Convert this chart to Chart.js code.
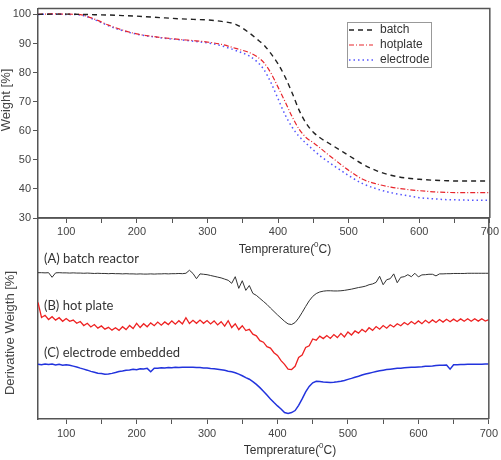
<!DOCTYPE html>
<html>
<head>
<meta charset="utf-8">
<script src="https://cdn.jsdelivr.net/npm/chart.js@4.4.0/dist/chart.umd.min.js"></script>
<style>
  body { margin: 0; background: #fff; }
  #wrap { position: relative; width: 501px; height: 460px; }
  #wrap canvas { position: absolute; left: 0; top: 0; }
</style>
</head>
<body>
<div id="wrap">
  <canvas id="tga" width="501" height="460"></canvas>
  <canvas id="dtg" width="501" height="460"></canvas>
</div>
<script>
// ---- top panel: weight loss (TGA) ----
const tgaTemps = [60, 80, 100, 120, 140, 160, 180, 200, 220, 240, 260, 280, 300, 320, 340, 360, 370, 380, 390, 400,
  410, 420, 430, 440, 450, 460, 470, 480, 490, 500, 520, 540, 560, 580, 600, 620, 640, 660, 680, 700];
const batchWeight = [100, 100.1, 100.1, 100, 99.9, 99.8, 99.6, 99.4, 99.1, 98.8, 98.5, 98.3, 98.1, 97.6, 96.6, 93.5, 91.5, 89.5, 86.5, 83,
  78.5, 73, 67, 62.5, 59.5, 57.5, 56, 54.5, 53, 51.5, 48.5, 46.2, 44.7, 43.8, 43.3, 43, 42.8, 42.7, 42.7, 42.7];
const hotplateWeight = [100, 100.2, 100.1, 99.9, 98.4, 96.3, 94.6, 93.3, 92.5, 91.9, 91.4, 91, 90.5, 89.7, 88.3, 86.8, 85.5, 83.4, 79.8, 75,
  70, 64.8, 60.5, 57.6, 55.9, 54, 52, 50.1, 48.2, 46.4, 43.3, 41.7, 40.6, 39.9, 39.4, 39, 38.8, 38.7, 38.7, 38.7];
const electrodeWeight = [100, 100.1, 100, 99.8, 98.2, 96.1, 94.4, 93.2, 92.4, 91.8, 91.3, 90.8, 90.2, 89.2, 87.6, 85.6, 83.8, 81, 76.5, 71,
  65.5, 61.2, 58, 55.6, 53.4, 51.3, 49.5, 47.8, 46.2, 44.6, 41.8, 40, 38.7, 37.8, 37, 36.6, 36.3, 36.2, 36.1, 36.1];
const seriesNames = ['batch', 'hotplate', 'electrode'];

// ---- bottom panel: derivative weight (DTG), one reading every 5 degC, arbitrary units ----
const dtgTemps = [
  60, 65, 70, 75, 80, 85, 90, 95, 100, 105, 110, 115, 120, 125, 130, 135, 140, 145, 150, 155,
  160, 165, 170, 175, 180, 185, 190, 195, 200, 205, 210, 215, 220, 225, 230, 235, 240, 245, 250, 255,
  260, 265, 270, 275, 280, 285, 290, 295, 300, 305, 310, 315, 320, 325, 330, 335, 340, 345, 350, 355,
  360, 365, 370, 375, 380, 385, 390, 395, 400, 405, 410, 415, 420, 425, 430, 435, 440, 445, 450, 455,
  460, 465, 470, 475, 480, 485, 490, 495, 500, 505, 510, 515, 520, 525, 530, 535, 540, 545, 550, 555,
  560, 565, 570, 575, 580, 585, 590, 595, 600, 605, 610, 615, 620, 625, 630, 635, 640, 645, 650, 655,
  660, 665, 670, 675, 680, 685, 690, 695, 700];
const batchDeriv = [
  72.8, 72.8, 72.7, 72.8, 70.5, 72.7, 72.8, 72.7, 72.7, 72.6,
  72.7, 72.6, 72.6, 72.5, 72.6, 72.5, 72.4, 72.5, 72.4, 72.4,
  72.3, 72.4, 72.3, 72.3, 72.2, 72.3, 72.2, 72.2, 72.1, 72.2,
  72.1, 72.1, 72.2, 72.1, 72.2, 72.2, 72.3, 72.2, 72.3, 72.3,
  72.4, 72.3, 72.5, 74.0, 72.4, 69.8, 72.2, 72.0, 71.8, 71.4,
  71.0, 70.6, 70.2, 69.6, 69.0, 67.5, 70.8, 65.0, 68.8, 64.0,
  66.4, 62.5, 61.5, 60.0, 58.5, 57.0, 55.2, 53.5, 51.8, 50.2,
  48.6, 47.3, 47.0, 48.0, 50.2, 53.0, 56.0, 58.8, 61.0, 62.4,
  63.2, 63.6, 63.8, 63.8, 63.7, 63.7, 63.8, 64.0, 64.3, 64.6,
  65.0, 65.4, 65.7, 66.1, 66.8, 67.2, 68.0, 71.0, 66.8, 69.3,
  69.8, 72.2, 67.8, 70.5, 70.8, 71.8, 70.8, 72.5, 70.7, 71.7,
  71.8, 72.0, 72.0, 71.2, 72.2, 72.2, 72.3, 72.3, 72.4, 72.4,
  72.4, 72.4, 72.5, 72.5, 72.5, 72.5, 72.5, 72.5, 72.5];
const hotplateDeriv = [
  58.0, 50.5, 51.6, 49.5, 50.9, 49.2, 50.4, 48.6, 50.0, 48.6,
  49.2, 47.6, 48.5, 46.5, 47.6, 45.8, 47.0, 45.2, 46.3, 44.7,
  45.6, 44.2, 45.4, 44.1, 45.9, 44.5, 46.5, 45.0, 47.6, 45.5,
  47.4, 45.9, 47.8, 46.4, 48.2, 46.7, 48.3, 47.0, 48.8, 47.2,
  48.9, 47.3, 50.4, 47.5, 49.1, 47.6, 49.2, 47.6, 49.0, 47.3,
  48.8, 46.8, 48.4, 46.2, 48.9, 45.5, 47.4, 44.5, 46.4, 44.0,
  44.6, 42.2, 41.4, 39.0, 38.2, 36.0, 35.3, 33.0, 31.6, 29.0,
  27.2, 24.8, 24.6, 26.2, 30.6, 31.8, 35.6, 36.4, 39.8, 39.2,
  41.2, 40.0, 41.5, 40.1, 42.0, 40.5, 42.6, 40.8, 43.3, 41.8,
  43.8, 42.7, 44.6, 43.3, 45.4, 44.1, 46.0, 44.7, 46.5, 45.2,
  46.9, 45.8, 47.4, 46.4, 48.0, 46.9, 48.5, 47.3, 48.8, 47.4,
  49.1, 47.8, 49.3, 48.0, 49.5, 48.2, 49.6, 48.4, 49.7, 48.5,
  49.8, 48.6, 49.9, 48.6, 49.9, 48.7, 49.9, 48.7, 49.4];
const electrodeDeriv = [
  27.3, 27.0, 27.4, 27.1, 27.3, 26.9, 27.2, 26.8, 27.0, 26.7,
  26.3, 25.9, 25.3, 24.8, 24.3, 23.7, 23.3, 22.8, 22.6, 22.3,
  22.4, 22.7, 23.1, 23.6, 23.9, 24.3, 24.4, 24.7, 24.5, 25.0,
  24.9, 25.2, 23.5, 25.3, 25.2, 25.5, 25.4, 25.6, 25.5, 25.7,
  25.6, 25.8, 25.7, 25.8, 25.7, 25.6, 25.6, 25.4, 25.4, 25.1,
  25.0, 24.8, 24.5, 24.2, 23.8, 23.5, 23.0, 22.3, 21.5, 20.6,
  19.8, 18.6, 17.2, 15.6, 13.8, 11.9, 10.0, 8.2, 6.5, 5.0,
  3.2, 2.8, 3.2, 4.2, 6.8, 10.0, 13.5, 16.2, 18.0, 18.8,
  18.6, 18.4, 18.3, 18.2, 18.3, 18.5, 18.8, 19.2, 19.7, 20.2,
  20.8, 21.3, 21.9, 22.4, 22.8, 23.2, 23.6, 24.0, 24.3, 24.6,
  24.8, 25.0, 25.2, 25.3, 25.5, 25.6, 25.7, 25.8, 25.9, 26.0,
  26.2, 26.3, 26.4, 26.6, 26.7, 26.8, 26.9, 24.8, 27.0, 27.0,
  27.1, 27.1, 27.2, 27.2, 27.3, 27.3, 27.3, 27.4, 27.4];
const panelLabels = ['(A) batch reactor', '(B) hot plate', '(C) electrode embedded'];
const panelLabelLevels = [79.6, 56.2, 32.8];

// tick values (minor ticks carry no label)
const xTickValues = [100, 150, 200, 250, 300, 350, 400, 450, 500, 550, 600, 650, 700];
const weightTicks = [30, 35, 40, 45, 50, 55, 60, 65, 70, 75, 80, 85, 90, 95, 100];

const AXIS = '#555';
const TICKFONT = { family: '"Liberation Sans", Arial, sans-serif', size: 11 };

function pairs(xs, ys) {
  return xs.map((x, i) => ({ x: x, y: ys[i] }));
}

// temperature title with a raised small "0"
function drawTempTitle(ctx, cx, cy) {
  ctx.fillStyle = '#333';
  ctx.textBaseline = 'middle';
  ctx.textAlign = 'left';
  const big = '12px "Liberation Sans", Arial, sans-serif';
  const small = '8px "Liberation Sans", Arial, sans-serif';
  ctx.font = big;
  const w1 = ctx.measureText('Temprerature(').width;
  const w3 = ctx.measureText('C)').width;
  ctx.font = small;
  const w2 = ctx.measureText('0').width;
  let x = cx - (w1 + w2 + w3) / 2;
  ctx.font = big;
  ctx.fillText('Temprerature(', x, cy);
  x += w1;
  ctx.font = small;
  ctx.fillText('0', x, cy - 5);
  x += w2;
  ctx.font = big;
  ctx.fillText('C)', x, cy);
}

function drawYTitle(ctx, text, cx, cy) {
  ctx.save();
  ctx.translate(cx, cy);
  ctx.rotate(-Math.PI / 2);
  ctx.fillStyle = '#444';
  ctx.font = '13px "Liberation Sans", Arial, sans-serif';
  ctx.textAlign = 'center';
  ctx.textBaseline = 'middle';
  ctx.fillText(text, 0, 0);
  ctx.restore();
}

const decor = {
  id: 'decor',
  afterDraw(chart, args, opts) {
    const ctx = chart.ctx;
    const a = chart.chartArea;
    ctx.save();
    // close the frame (top + right)
    ctx.strokeStyle = AXIS;
    ctx.lineWidth = 1.5;
    ctx.beginPath();
    ctx.moveTo(a.left, a.top);
    ctx.lineTo(a.right, a.top);
    ctx.lineTo(a.right, a.bottom);
    ctx.stroke();

    drawTempTitle(ctx, opts.titleX, opts.titleY);
    drawYTitle(ctx, opts.yTitle, opts.yTitleX, opts.yTitleY);

    if (opts.legend) {
      const L = opts.legend;
      ctx.fillStyle = '#fff';
      ctx.fillRect(L.x, L.y, L.w, L.h);
      ctx.strokeStyle = '#999';
      ctx.lineWidth = 1;
      ctx.strokeRect(L.x + 0.5, L.y + 0.5, L.w, L.h);
      chart.data.datasets.forEach((ds, i) => {
        const y = L.y + 8 + i * 15;
        ctx.strokeStyle = ds.borderColor;
        ctx.lineWidth = ds.borderWidth;
        ctx.setLineDash(ds.borderDash || []);
        ctx.beginPath();
        ctx.moveTo(L.x + 2, y);
        ctx.lineTo(L.x + 26, y);
        ctx.stroke();
        ctx.setLineDash([]);
        ctx.fillStyle = '#333';
        ctx.font = '12px "Liberation Sans", Arial, sans-serif';
        ctx.textAlign = 'left';
        ctx.textBaseline = 'middle';
        ctx.fillText(ds.label, L.x + 33, y);
      });
    }

    if (opts.panelText) {
      const xs = chart.scales.x, ys = chart.scales.y;
      ctx.fillStyle = '#333';
      ctx.font = '13px Lato, "Open Sans", sans-serif';
      ctx.textAlign = 'left';
      ctx.textBaseline = 'middle';
      panelLabels.forEach((t, i) => {
        ctx.fillText(t, xs.getPixelForValue(68.5), ys.getPixelForValue(panelLabelLevels[i]));
      });
    }
    ctx.restore();
  }
};

function xScale(labelPad) {
  return {
    type: 'linear',
    min: 60,
    max: 700,
    afterBuildTicks: (s) => { s.ticks = xTickValues.map(v => ({ value: v })); },
    afterFit: (s) => { s.height = labelPad === 2 ? 30 : 41; },
    grid: { drawOnChartArea: false, tickLength: 5, color: AXIS, tickColor: AXIS },
    border: { color: AXIS, width: 1.5 },
    ticks: {
      color: '#444', font: TICKFONT, padding: labelPad, maxRotation: 0, autoSkip: false,
      callback: (v) => (v % 100 === 0 ? v : '')
    }
  };
}

new Chart(document.getElementById('tga'), {
  type: 'line',
  data: {
    datasets: [
      { label: seriesNames[0], data: pairs(tgaTemps, batchWeight), borderColor: '#222', borderWidth: 1.4, borderDash: [5, 4] },
      { label: seriesNames[1], data: pairs(tgaTemps, hotplateWeight), borderColor: '#e8262d', borderWidth: 1.2, borderDash: [5, 2, 1, 2] },
      { label: seriesNames[2], data: pairs(tgaTemps, electrodeWeight), borderColor: '#5555ff', borderWidth: 1.5, borderDash: [1.5, 3] }
    ]
  },
  options: {
    responsive: false,
    animation: false,
    devicePixelRatio: 1,
    layout: { padding: { left: 0, top: 5, right: 9, bottom: 212 } },
    elements: { point: { radius: 0 }, line: { cubicInterpolationMode: 'monotone', fill: false } },
    scales: {
      x: xScale(2),
      y: {
        min: 30,
        max: 102,
        afterBuildTicks: (s) => { s.ticks = weightTicks.map(v => ({ value: v })); },
        afterFit: (s) => { s.width = 38; },
        grid: { drawOnChartArea: false, tickLength: 5, color: AXIS, tickColor: AXIS },
        border: { color: AXIS, width: 1.5 },
        ticks: { color: '#444', font: TICKFONT, padding: 2, callback: (v) => (v % 10 === 0 ? v : '') }
      }
    },
    plugins: {
      legend: { display: false },
      tooltip: { enabled: false },
      decor: {
        titleX: 285, titleY: 250,
        yTitle: 'Weight [%]', yTitleX: 6, yTitleY: 100,
        legend: { x: 347, y: 22, w: 84, h: 45 }
      }
    }
  },
  plugins: [decor]
});

new Chart(document.getElementById('dtg'), {
  type: 'line',
  data: {
    datasets: [
      { label: panelLabels[0], data: pairs(dtgTemps, batchDeriv), borderColor: '#333', borderWidth: 1 },
      { label: panelLabels[1], data: pairs(dtgTemps, hotplateDeriv), borderColor: '#ee2222', borderWidth: 1.3 },
      { label: panelLabels[2], data: pairs(dtgTemps, electrodeDeriv), borderColor: '#2233dd', borderWidth: 1.5 }
    ]
  },
  options: {
    responsive: false,
    animation: false,
    devicePixelRatio: 1,
    layout: { padding: { left: 0, top: 218, right: 9, bottom: 0 } },
    elements: { point: { radius: 0 }, line: { tension: 0, fill: false } },
    scales: {
      x: xScale(3),
      y: {
        min: 0,
        max: 100,
        afterFit: (s) => { s.width = 38; },
        grid: { display: false },
        border: { color: AXIS, width: 1.5 },
        ticks: { display: false }
      }
    },
    plugins: {
      legend: { display: false },
      tooltip: { enabled: false },
      decor: {
        titleX: 290, titleY: 451,
        yTitle: 'Derivative Weigth [%]', yTitleX: 10, yTitleY: 333,
        panelText: true
      }
    }
  },
  plugins: [decor]
});
</script>
</body>
</html>
